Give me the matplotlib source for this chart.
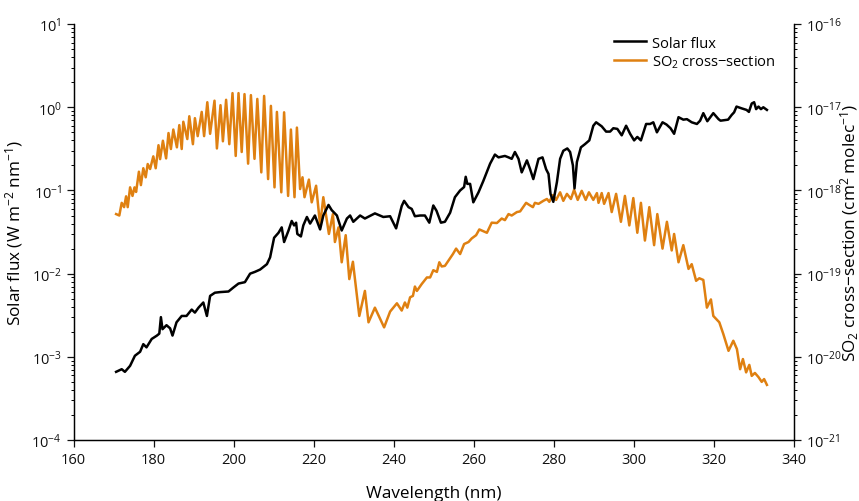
import numpy as np
import matplotlib
matplotlib.use('Agg')
import matplotlib.pyplot as plt

plt.rcParams['font.family'] = ['Open Sans', 'DejaVu Sans']
plt.rcParams['mathtext.fontset'] = 'custom'
plt.rcParams['mathtext.rm'] = 'Open Sans'
plt.rcParams['mathtext.it'] = 'Open Sans'

# solar flux (W m-2 nm-1)
flux_nm = [170.6, 172.0, 172.8, 174.1, 175.3, 176.6, 177.4, 178.2, 179.5, 180.8,
           181.4, 181.8, 182.2, 183.2, 184.1, 184.7, 185.7, 187.0, 188.2, 189.5,
           190.3, 191.2, 192.4, 193.3, 194.1, 195.3, 196.6, 198.7, 199.9, 201.2,
           202.8, 204.1, 205.3, 206.6, 208.3, 209.1, 210.1, 211.2, 212.0, 212.6,
           213.7, 214.5, 215.1, 215.6, 215.9, 216.8, 217.4, 218.3, 219.1, 220.3,
           221.6, 222.4, 223.7, 224.5, 225.8, 227.0, 228.3, 229.1, 229.9, 231.6,
           232.8, 235.3, 237.4, 239.1, 240.6, 242.0, 242.6, 243.7, 244.5, 245.3,
           246.6, 247.8, 248.9, 249.9, 250.7, 251.8, 252.8, 254.1, 255.3, 256.6,
           257.6, 258.0, 258.4, 259.1, 259.9, 261.2, 262.4, 264.1, 265.3, 266.2,
           267.8, 268.7, 269.5, 270.3, 271.2, 272.0, 273.3, 274.1, 274.9, 276.2,
           277.2, 278.1, 278.7, 279.2, 279.9, 280.8, 281.6, 282.4, 283.4, 284.1,
           284.8, 285.2, 285.8, 286.8, 287.8, 288.9, 289.9, 290.6, 292.0, 293.1,
           294.1, 294.9, 295.9, 297.0, 298.1, 299.1, 300.1, 300.9, 301.8, 303.1,
           304.1, 304.9, 305.8, 307.2, 308.2, 309.2, 310.1, 311.2, 312.4, 313.3,
           314.5, 315.8, 316.6, 317.4, 318.4, 319.9, 321.2, 321.7, 323.6, 324.5,
           325.1, 325.7, 327.0, 328.2, 328.8, 329.5, 330.1, 330.6, 331.2, 331.8,
           332.4, 333.3]
flux = [6.6e-4, 7.1e-4, 6.6e-4, 7.8e-4, 1.03e-3, 1.15e-3, 1.42e-3, 1.3e-3, 1.64e-3, 1.8e-3,
        1.9e-3, 3.0e-3, 2.15e-3, 2.4e-3, 2.2e-3, 1.8e-3, 2.6e-3, 3.1e-3, 3.1e-3, 3.7e-3,
        3.4e-3, 3.9e-3, 4.5e-3, 3.1e-3, 5.4e-3, 5.9e-3, 6.0e-3, 6.1e-3, 6.8e-3, 7.6e-3,
        7.9e-3, 1.0e-2, 1.05e-2, 1.12e-2, 1.3e-2, 1.57e-2, 2.7e-2, 3.1e-2, 3.6e-2, 2.4e-2,
        3.3e-2, 4.3e-2, 3.8e-2, 4.1e-2, 3.0e-2, 2.8e-2, 3.8e-2, 4.8e-2, 4.0e-2, 5.0e-2,
        3.4e-2, 5.0e-2, 6.7e-2, 5.8e-2, 5.0e-2, 3.3e-2, 4.6e-2, 5.0e-2, 4.2e-2, 5.0e-2,
        4.6e-2, 5.3e-2, 4.8e-2, 4.9e-2, 3.5e-2, 6.5e-2, 7.5e-2, 6.3e-2, 6.0e-2, 4.9e-2,
        5.0e-2, 5.0e-2, 4.1e-2, 6.6e-2, 5.7e-2, 4.1e-2, 4.2e-2, 5.4e-2, 8.3e-2, 1.0e-1,
        1.1e-1, 1.46e-1, 1.2e-1, 1.2e-1, 7.2e-2, 9.5e-2, 1.3e-1, 2.1e-1, 2.7e-1, 2.5e-1,
        2.6e-1, 2.5e-1, 2.4e-1, 2.9e-1, 2.4e-1, 1.65e-1, 2.3e-1, 1.8e-1, 1.37e-1, 2.4e-1,
        2.5e-1, 1.8e-1, 1.58e-1, 9.1e-2, 7.3e-2, 1.26e-1, 2.4e-1, 3.0e-1, 3.2e-1, 2.9e-1,
        2.0e-1, 1.06e-1, 2.2e-1, 3.3e-1, 3.6e-1, 4.0e-1, 6.0e-1, 6.6e-1, 5.9e-1, 5.1e-1,
        5.1e-1, 5.6e-1, 5.5e-1, 4.6e-1, 6.0e-1, 4.8e-1, 4.0e-1, 4.4e-1, 4.0e-1, 6.3e-1,
        6.3e-1, 6.6e-1, 5.0e-1, 6.6e-1, 6.2e-1, 5.6e-1, 4.8e-1, 7.6e-1, 7.1e-1, 7.2e-1,
        6.6e-1, 6.3e-1, 6.9e-1, 8.5e-1, 6.8e-1, 8.5e-1, 7.2e-1, 6.9e-1, 7.1e-1, 8.1e-1,
        8.7e-1, 1.02, 0.97, 0.93, 0.88, 1.11, 1.15, 0.95, 1.02, 0.95,
        1.0, 0.93]

# SO2 cross-section (cm2 molec-1)
so2_nm = [170.6, 171.4, 172.0, 172.6, 173.1, 173.5, 174.1, 174.7, 175.2, 175.6,
          176.3, 176.8, 177.4, 178.0, 178.5, 179.1, 179.9, 180.5, 181.2, 181.6,
          182.3, 183.1, 183.7, 184.3, 184.9, 185.8, 186.4, 187.0, 187.4, 188.4,
          188.9, 189.8, 190.3, 191.0, 192.0, 192.6, 193.4, 194.1, 195.2, 195.8,
          196.7, 197.3, 198.1, 198.9, 199.7, 200.5, 201.2, 202.0, 202.7, 203.6,
          204.3, 205.2, 205.9, 206.9, 207.6, 208.6, 209.3, 210.2, 210.8, 211.9,
          212.6, 213.6, 214.3, 215.2, 215.8, 216.6, 217.2, 217.7, 218.8, 219.5,
          220.6, 221.6, 222.4, 223.8, 224.8, 225.3, 226.2, 227.0, 228.0, 228.9,
          229.8, 231.4, 232.8, 233.7, 235.3, 237.6, 239.1, 240.8, 242.0, 242.8,
          243.4, 244.1, 244.8, 245.3, 245.8, 247.0, 248.3, 249.1, 249.9, 250.8,
          251.4, 252.0, 252.8, 254.1, 254.8, 255.6, 256.6, 257.6, 258.7, 259.5,
          260.6, 261.4, 263.3, 264.5, 265.8, 267.0, 267.8, 268.7, 269.5, 270.8,
          271.6, 273.1, 273.9, 274.8, 275.3, 276.2, 277.4, 278.3, 278.9, 279.8,
          280.6, 281.6, 282.4, 283.3, 284.3, 285.1, 286.0, 287.0, 288.0, 288.8,
          289.9, 290.8, 291.2, 292.0, 292.6, 293.7, 294.5, 295.6, 296.8, 297.8,
          298.9, 299.9, 300.9, 301.8, 302.8, 303.9, 305.1, 305.9, 307.2, 308.3,
          309.5, 310.1, 311.2, 312.4, 313.7, 314.5, 315.6, 316.4, 317.4, 318.3,
          319.3, 319.9, 321.4, 322.4, 323.7, 324.9, 325.8, 326.6, 327.3, 328.1,
          328.9, 329.5, 330.3, 331.2, 332.0, 332.6, 333.3]
so2 = [5.2e-19, 5.0e-19, 7.1e-19, 6.3e-19, 8.5e-19, 6.3e-19, 1.09e-18, 8.6e-19, 1.09e-18, 9.6e-19,
       1.68e-18, 1.16e-18, 1.85e-18, 1.44e-18, 2.08e-18, 1.81e-18, 2.57e-18, 1.85e-18, 3.5e-18, 2.38e-18,
       3.96e-18, 2.43e-18, 4.9e-18, 3.15e-18, 5.4e-18, 3.3e-18, 6.1e-18, 3.15e-18, 6.7e-18, 4.15e-18,
       7.8e-18, 3.6e-18, 7.4e-18, 4.5e-18, 8.8e-18, 4.5e-18, 1.15e-17, 4.8e-18, 1.2e-17, 3.2e-18,
       1.06e-17, 3.9e-18, 1.23e-17, 3.6e-18, 1.48e-17, 2.6e-18, 1.48e-17, 2.9e-18, 1.44e-17, 2.1e-18,
       1.4e-17, 2.4e-18, 1.26e-17, 1.65e-18, 1.37e-17, 1.37e-18, 1.04e-17, 1.09e-18, 8.8e-18, 9.5e-19,
       8.7e-18, 8.6e-19, 5.4e-18, 8.3e-19, 5.7e-18, 1.04e-18, 1.44e-18, 8.3e-19, 1.35e-18, 7.2e-19,
       1.14e-18, 3.8e-19, 8.3e-19, 3.0e-19, 5.2e-19, 2.4e-19, 3.6e-19, 1.37e-19, 2.9e-19, 8.6e-20,
       1.39e-19, 3.1e-20, 6.2e-20, 2.6e-20, 3.9e-20, 2.26e-20, 3.5e-20, 4.4e-20, 3.6e-20, 4.5e-20,
       3.9e-20, 5.2e-20, 5.4e-20, 7.0e-20, 6.2e-20, 7.5e-20, 9.0e-20, 9.0e-20, 1.1e-19, 1.05e-19,
       1.37e-19, 1.22e-19, 1.24e-19, 1.53e-19, 1.72e-19, 2.0e-19, 1.72e-19, 2.27e-19, 2.4e-19, 2.65e-19,
       2.9e-19, 3.4e-19, 3.1e-19, 4.1e-19, 4.06e-19, 4.6e-19, 4.4e-19, 5.2e-19, 5.0e-19, 5.5e-19,
       5.6e-19, 7.1e-19, 6.7e-19, 6.3e-19, 7.1e-19, 6.9e-19, 7.5e-19, 7.9e-19, 7.3e-19, 8.8e-19,
       7.7e-19, 9.5e-19, 7.5e-19, 9.1e-19, 7.9e-19, 1.02e-18, 7.7e-19, 9.9e-19, 7.7e-19, 9.5e-19,
       7.7e-19, 9.3e-19, 7.1e-19, 9.3e-19, 6.9e-19, 9.3e-19, 5.5e-19, 9.1e-19, 4.2e-19, 8.6e-19,
       3.8e-19, 8.1e-19, 3.1e-19, 7.1e-19, 2.5e-19, 6.3e-19, 2.2e-19, 5.2e-19, 2.0e-19, 4.2e-19,
       1.9e-19, 3.0e-19, 1.37e-19, 2.2e-19, 1.14e-19, 1.3e-19, 8.2e-20, 8.8e-20, 8.4e-20, 3.9e-20,
       4.9e-20, 3.1e-20, 2.6e-20, 1.88e-20, 1.18e-20, 1.56e-20, 1.24e-20, 7.1e-21, 9.4e-21, 6.5e-21,
       8.0e-21, 5.9e-21, 6.4e-21, 5.7e-21, 5.0e-21, 5.4e-21, 4.6e-21]

orange = '#df8011'

fig = plt.figure(figsize=(8.59, 5.02), dpi=100)
ax = fig.add_axes([0.0858, 0.1215, 0.8382, 0.8285])
ax2 = ax.twinx()

l1, = ax.plot(flux_nm, flux, color='black', lw=1.8, label='Solar flux')
l2, = ax2.plot(so2_nm, so2, color=orange, lw=1.8, label='SO$_2$ cross\u2212section')

ax.set_zorder(ax2.get_zorder() + 1)
ax.patch.set_visible(False)

ax.set_xlim(160, 340)
ax.set_yscale('log')
ax.set_ylim(1e-4, 1e1)
ax2.set_yscale('log')
ax2.set_ylim(1e-21, 1e-16)
ax.set_xticks(np.arange(160, 341, 20))

for a in (ax, ax2):
    a.spines['top'].set_visible(False)
    a.tick_params(which='major', direction='out', length=5, width=0.9, labelsize=10.5, colors='#111111')
    a.tick_params(which='minor', direction='out', length=2.5, width=0.7)
    for s in a.spines.values():
        s.set_linewidth(0.9)

ax.set_xlabel('Wavelength (nm)', fontsize=12.3, labelpad=13)
ax.set_ylabel('Solar flux (W m$^{-2}$ nm$^{-1}$)', fontsize=12.3, labelpad=5)
ax2.set_ylabel('SO$_2$ cross\u2212section (cm$^2$ molec$^{-1}$)', fontsize=12.3, labelpad=-2)

ax.legend(handles=[l1, l2], loc='upper left', bbox_to_anchor=(0.74, 0.99), frameon=False,
          fontsize=10.5, handlelength=2.2, handletextpad=0.4, labelspacing=0.2, borderpad=0)

fig.savefig('out.png', dpi=100)
